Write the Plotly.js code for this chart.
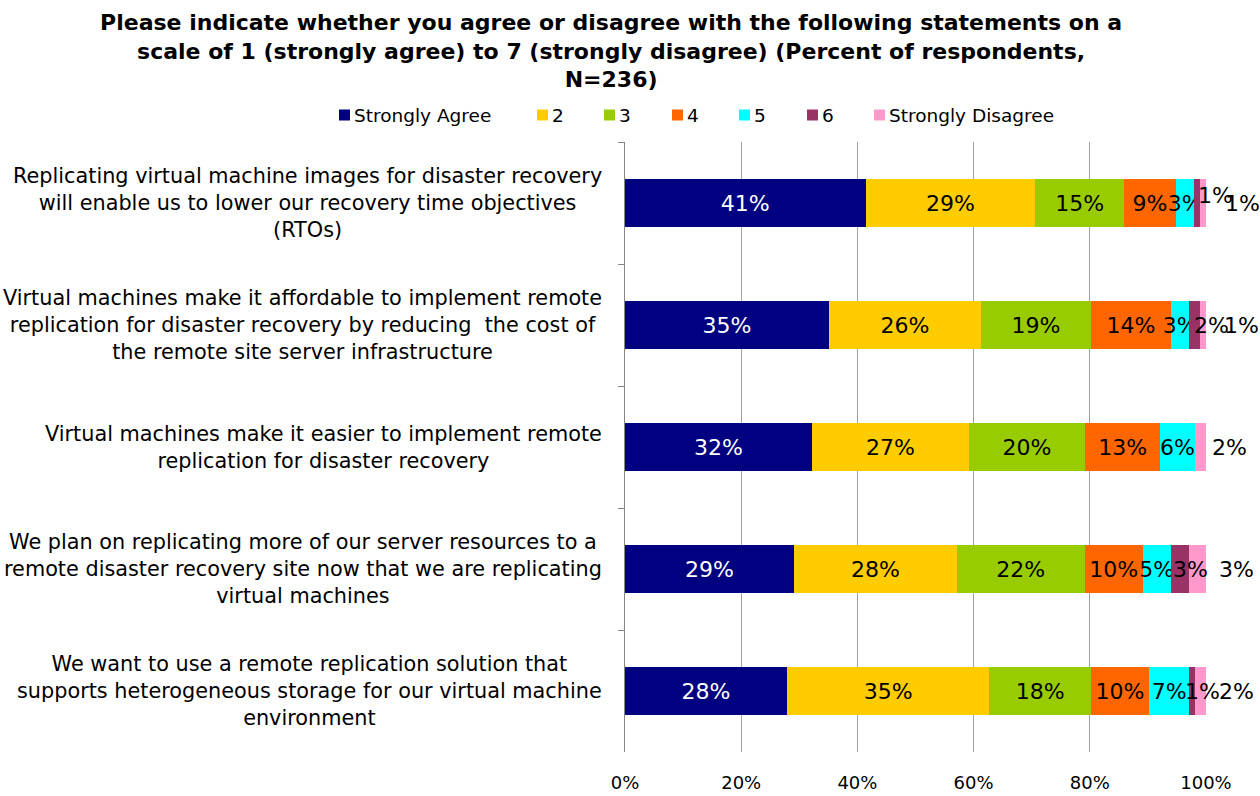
<!DOCTYPE html>
<html>
<head>
<meta charset="utf-8">
<script src="https://cdn.plot.ly/plotly-3.0.1.min.js"></script>
<style>html,body{margin:0;padding:0;background:#fff;}#chart{width:1260px;height:796px;}</style>
</head>
<body>
<div id="chart"></div>
<script>
const categories = [
  "Replicating virtual machine images for disaster recovery<br>will enable us to lower our recovery time objectives<br>(RTOs)",
  "Virtual machines make it affordable to implement remote<br>replication for disaster recovery by reducing  the cost of<br>the remote site server infrastructure",
  "Virtual machines make it easier to implement remote<br>replication for disaster recovery",
  "We plan on replicating more of our server resources to a<br>remote disaster recovery site now that we are replicating<br>virtual machines",
  "We want to use a remote replication solution that<br>supports heterogeneous storage for our virtual machine<br>environment"
];
const seriesNames = ["Strongly Agree", "2", "3", "4", "5", "6", "Strongly Disagree"];
const stronglyAgree = [41.4, 35.1, 32.2, 29.1, 27.9];
const level2 = [29.2, 26.2, 27.0, 28.0, 34.8];
const level3 = [15.3, 18.9, 20.0, 22.0, 17.5];
const level4 = [8.9, 13.8, 12.9, 10.0, 10.0];
const level5 = [3.2, 3.1, 6.0, 4.8, 6.9];
const level6 = [1.0, 1.9, 0, 3.1, 1.0];
const stronglyDisagree = [1.0, 1.0, 1.9, 3.0, 1.9];
const xTickVals = [0, 20, 40, 60, 80, 100];

// label nudges (pixels) for the small segments, as placed in the original
const level6LabelShiftX = [18, 17, 0, 11, 10];
const level6LabelShiftY = [8, 0, 0, 0, 0];
const sdLabelShiftX = [36, 35, 23, 30, 30];

// legend layout (pixel positions of each key square's left edge)
const legendKeyLeft = [339, 537, 604, 672, 739, 807, 874];
const legendCenterY = 115;

const series = [stronglyAgree, level2, level3, level4, level5, level6, stronglyDisagree];
const colors = ["#000080", "#FFCC00", "#99CC00", "#FF6600", "#00FFFF", "#993366", "#FF99CC"];
const textColors = ["#FFFFFF", "#000000", "#000000", "#000000", "#000000", "#000000", "#000000"];
const FONT = "DejaVu Sans, Verdana, sans-serif";
const pct = v => Math.round(v) + "%";
const r3 = v => Math.round(v * 1000) / 1000;

const M = {l: 625, r: 54, t: 142, b: 44};
const W = 1260, H = 796;
const PW = W - M.l - M.r, PH = H - M.t - M.b;
const px2x = px => (px - M.l) / PW;
const py2y = py => (H - M.b - py) / PH;

const traces = series.map((vals, i) => ({
  type: "bar",
  orientation: "h",
  name: seriesNames[i],
  y: categories,
  x: vals,
  marker: {color: colors[i], line: {width: 0}},
  text: i >= 5 ? vals.map(() => "") : vals.map(pct),
  textposition: i >= 5 ? "none" : "inside",
  insidetextanchor: "middle",
  constraintext: "none",
  textangle: 0,
  cliponaxis: false,
  textfont: {family: FONT, size: 22, color: textColors[i]},
  hoverinfo: "skip",
  showlegend: false
}));

const annotations = categories.map(c => ({
  xref: "paper", yref: "y", x: px2x(604), y: c,
  xanchor: "right", yanchor: "middle", align: "center",
  text: c, showarrow: false,
  font: {family: FONT, size: 20.8, color: "#000000"}
}));

categories.forEach((c, r) => {
  const before6 = stronglyAgree[r] + level2[r] + level3[r] + level4[r] + level5[r];
  if (level6[r] > 0) {
    annotations.push({
      xref: "x", yref: "y", x: r3(before6 + level6[r] / 2), y: c,
      xanchor: "center", yanchor: "middle", showarrow: false,
      xshift: level6LabelShiftX[r], yshift: level6LabelShiftY[r],
      text: pct(level6[r]), font: {family: FONT, size: 22, color: "#000000"}
    });
  }
  annotations.push({
    xref: "x", yref: "y", x: Math.min(100, r3(before6 + level6[r] + stronglyDisagree[r])), y: c,
    xanchor: "center", yanchor: "middle", showarrow: false,
    xshift: sdLabelShiftX[r],
    text: pct(stronglyDisagree[r]), font: {family: FONT, size: 22, color: "#000000"}
  });
});

// legend: key squares + names
const shapes = [];
seriesNames.forEach((name, i) => {
  const left = legendKeyLeft[i];
  shapes.push({
    type: "rect", xref: "paper", yref: "paper", layer: "above",
    x0: px2x(left), x1: px2x(left + 11),
    y0: py2y(legendCenterY + 5.5), y1: py2y(legendCenterY - 5.5),
    fillcolor: colors[i], line: {width: 0}
  });
  annotations.push({
    xref: "paper", yref: "paper", x: px2x(left + 13), y: py2y(legendCenterY),
    xanchor: "left", yanchor: "middle", showarrow: false,
    text: name, font: {family: FONT, size: 18.5, color: "#000000"}
  });
});

const layout = {
  width: W, height: H,
  paper_bgcolor: "#FFFFFF", plot_bgcolor: "#FFFFFF",
  margin: M,
  barmode: "stack",
  bargap: 0.6,
  showlegend: false,
  title: {
    text: "<b>Please indicate whether you agree or disagree with the following statements on a<br>scale of 1 (strongly agree) to 7 (strongly disagree) (Percent of respondents,<br>N=236)</b>",
    x: 0.485, xanchor: "center", yref: "container", y: 0.962, yanchor: "top",
    font: {family: FONT, size: 22, color: "#000000"}
  },
  xaxis: {
    range: [0, 100], tickvals: xTickVals, ticktext: xTickVals.map(v => v + "%"),
    showgrid: true, gridcolor: "#A0A0A0", gridwidth: 1,
    zeroline: false, showline: false, ticks: "",
    ticklabelstandoff: 18,
    tickfont: {family: FONT, size: 18, color: "#000000"},
    fixedrange: true
  },
  yaxis: {
    autorange: "reversed", showticklabels: false,
    showline: true, linecolor: "#868686", linewidth: 1,
    ticks: "outside", tickson: "boundaries", ticklen: 6, tickcolor: "#868686",
    showgrid: false, zeroline: false, fixedrange: true
  },
  shapes: shapes,
  annotations: annotations
};

Plotly.newPlot("chart", traces, layout, {displayModeBar: false, staticPlot: true});
</script>
</body>
</html>
